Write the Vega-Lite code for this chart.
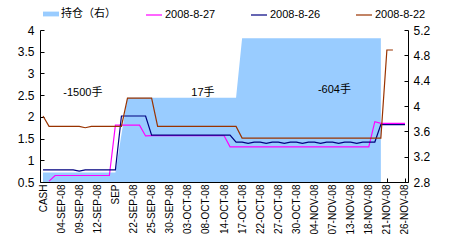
{
  "$schema": "https://vega.github.io/schema/vega-lite/v6.json",
  "width": 368,
  "height": 152,
  "autosize": {"type": "none"},
  "padding": {"left": 40, "top": 30, "right": 42, "bottom": 68},
  "config": {
    "view": {"stroke": null},
    "font": "Liberation Sans, 'Noto Sans CJK SC'",
    "axis": {"domainColor": "#000", "tickColor": "#000", "labelColor": "#000", "grid": false, "labelFont": "Liberation Sans", "domainWidth": 1, "tickWidth": 1, "labelOverlap": false, "title": null, "tickCount": 100}
  },
  "datasets": {
    "pos": [
      {"s": "持仓（右）", "i": 0, "v": 2.95}, {"s": "持仓（右）", "i": 1, "v": 2.95}, {"s": "持仓（右）", "i": 2, "v": 2.95}, {"s": "持仓（右）", "i": 3, "v": 2.95},
      {"s": "持仓（右）", "i": 4, "v": 2.95}, {"s": "持仓（右）", "i": 5, "v": 2.95}, {"s": "持仓（右）", "i": 6, "v": 2.95}, {"s": "持仓（右）", "i": 7, "v": 2.95},
      {"s": "持仓（右）", "i": 8, "v": 2.95}, {"s": "持仓（右）", "i": 9, "v": 2.95}, {"s": "持仓（右）", "i": 10, "v": 2.95}, {"s": "持仓（右）", "i": 11, "v": 2.95},
      {"s": "持仓（右）", "i": 12, "v": 2.95}, {"s": "持仓（右）", "i": 13, "v": 3.55}, {"s": "持仓（右）", "i": 14, "v": 4.13}, {"s": "持仓（右）", "i": 15, "v": 4.13},
      {"s": "持仓（右）", "i": 16, "v": 4.13}, {"s": "持仓（右）", "i": 17, "v": 4.13}, {"s": "持仓（右）", "i": 18, "v": 4.13}, {"s": "持仓（右）", "i": 19, "v": 4.13},
      {"s": "持仓（右）", "i": 20, "v": 4.13}, {"s": "持仓（右）", "i": 21, "v": 4.13}, {"s": "持仓（右）", "i": 22, "v": 4.13}, {"s": "持仓（右）", "i": 23, "v": 4.13},
      {"s": "持仓（右）", "i": 24, "v": 4.13}, {"s": "持仓（右）", "i": 25, "v": 4.13}, {"s": "持仓（右）", "i": 26, "v": 4.13}, {"s": "持仓（右）", "i": 27, "v": 4.13},
      {"s": "持仓（右）", "i": 28, "v": 4.13}, {"s": "持仓（右）", "i": 29, "v": 4.13}, {"s": "持仓（右）", "i": 30, "v": 4.13}, {"s": "持仓（右）", "i": 31, "v": 4.13},
      {"s": "持仓（右）", "i": 32, "v": 4.13}, {"s": "持仓（右）", "i": 33, "v": 5.07}, {"s": "持仓（右）", "i": 34, "v": 5.07}, {"s": "持仓（右）", "i": 35, "v": 5.07},
      {"s": "持仓（右）", "i": 36, "v": 5.07}, {"s": "持仓（右）", "i": 37, "v": 5.07}, {"s": "持仓（右）", "i": 38, "v": 5.07}, {"s": "持仓（右）", "i": 39, "v": 5.07},
      {"s": "持仓（右）", "i": 40, "v": 5.07}, {"s": "持仓（右）", "i": 41, "v": 5.07}, {"s": "持仓（右）", "i": 42, "v": 5.07}, {"s": "持仓（右）", "i": 43, "v": 5.07},
      {"s": "持仓（右）", "i": 44, "v": 5.07}, {"s": "持仓（右）", "i": 45, "v": 5.07}, {"s": "持仓（右）", "i": 46, "v": 5.07}, {"s": "持仓（右）", "i": 47, "v": 5.07},
      {"s": "持仓（右）", "i": 48, "v": 5.07}, {"s": "持仓（右）", "i": 49, "v": 5.07}, {"s": "持仓（右）", "i": 50, "v": 5.07}, {"s": "持仓（右）", "i": 51, "v": 5.07},
      {"s": "持仓（右）", "i": 52, "v": 5.07}, {"s": "持仓（右）", "i": 53, "v": 5.07}, {"s": "持仓（右）", "i": 54, "v": 5.07}, {"s": "持仓（右）", "i": 55, "v": 5.07},
      {"s": "持仓（右）", "i": 56, "v": 5.07}
    ],
    "m27": [
      {"s": "2008-8-27", "i": 1, "v": 0.52}, {"s": "2008-8-27", "i": 2, "v": 0.65}, {"s": "2008-8-27", "i": 3, "v": 0.65}, {"s": "2008-8-27", "i": 4, "v": 0.65},
      {"s": "2008-8-27", "i": 5, "v": 0.65}, {"s": "2008-8-27", "i": 6, "v": 0.65}, {"s": "2008-8-27", "i": 7, "v": 0.65}, {"s": "2008-8-27", "i": 8, "v": 0.65},
      {"s": "2008-8-27", "i": 9, "v": 0.65}, {"s": "2008-8-27", "i": 10, "v": 0.65}, {"s": "2008-8-27", "i": 11, "v": 0.65}, {"s": "2008-8-27", "i": 12, "v": 1.81},
      {"s": "2008-8-27", "i": 13, "v": 1.81}, {"s": "2008-8-27", "i": 14, "v": 1.81}, {"s": "2008-8-27", "i": 15, "v": 1.81}, {"s": "2008-8-27", "i": 16, "v": 1.81},
      {"s": "2008-8-27", "i": 17, "v": 1.56}, {"s": "2008-8-27", "i": 18, "v": 1.57}, {"s": "2008-8-27", "i": 19, "v": 1.57}, {"s": "2008-8-27", "i": 20, "v": 1.57},
      {"s": "2008-8-27", "i": 21, "v": 1.57}, {"s": "2008-8-27", "i": 22, "v": 1.57}, {"s": "2008-8-27", "i": 23, "v": 1.57}, {"s": "2008-8-27", "i": 24, "v": 1.57},
      {"s": "2008-8-27", "i": 25, "v": 1.57}, {"s": "2008-8-27", "i": 26, "v": 1.57}, {"s": "2008-8-27", "i": 27, "v": 1.57}, {"s": "2008-8-27", "i": 28, "v": 1.57},
      {"s": "2008-8-27", "i": 29, "v": 1.57}, {"s": "2008-8-27", "i": 30, "v": 1.57}, {"s": "2008-8-27", "i": 31, "v": 1.31}, {"s": "2008-8-27", "i": 32, "v": 1.31},
      {"s": "2008-8-27", "i": 33, "v": 1.31}, {"s": "2008-8-27", "i": 34, "v": 1.31}, {"s": "2008-8-27", "i": 35, "v": 1.31}, {"s": "2008-8-27", "i": 36, "v": 1.31},
      {"s": "2008-8-27", "i": 37, "v": 1.31}, {"s": "2008-8-27", "i": 38, "v": 1.31}, {"s": "2008-8-27", "i": 39, "v": 1.31}, {"s": "2008-8-27", "i": 40, "v": 1.31},
      {"s": "2008-8-27", "i": 41, "v": 1.31}, {"s": "2008-8-27", "i": 42, "v": 1.31}, {"s": "2008-8-27", "i": 43, "v": 1.31}, {"s": "2008-8-27", "i": 44, "v": 1.31},
      {"s": "2008-8-27", "i": 45, "v": 1.31}, {"s": "2008-8-27", "i": 46, "v": 1.31}, {"s": "2008-8-27", "i": 47, "v": 1.31}, {"s": "2008-8-27", "i": 48, "v": 1.31},
      {"s": "2008-8-27", "i": 49, "v": 1.31}, {"s": "2008-8-27", "i": 50, "v": 1.31}, {"s": "2008-8-27", "i": 51, "v": 1.31}, {"s": "2008-8-27", "i": 52, "v": 1.31},
      {"s": "2008-8-27", "i": 53, "v": 1.31}, {"s": "2008-8-27", "i": 54, "v": 1.31}, {"s": "2008-8-27", "i": 55, "v": 1.89}, {"s": "2008-8-27", "i": 56, "v": 1.85},
      {"s": "2008-8-27", "i": 57, "v": 1.85}, {"s": "2008-8-27", "i": 58, "v": 1.85}, {"s": "2008-8-27", "i": 59, "v": 1.85}, {"s": "2008-8-27", "i": 60, "v": 1.85}
    ],
    "m26": [
      {"s": "2008-8-26", "i": 0, "v": 0.78}, {"s": "2008-8-26", "i": 1, "v": 0.78}, {"s": "2008-8-26", "i": 2, "v": 0.78}, {"s": "2008-8-26", "i": 3, "v": 0.78},
      {"s": "2008-8-26", "i": 4, "v": 0.78}, {"s": "2008-8-26", "i": 5, "v": 0.78}, {"s": "2008-8-26", "i": 6, "v": 0.75}, {"s": "2008-8-26", "i": 7, "v": 0.78},
      {"s": "2008-8-26", "i": 8, "v": 0.78}, {"s": "2008-8-26", "i": 9, "v": 0.78}, {"s": "2008-8-26", "i": 10, "v": 0.78}, {"s": "2008-8-26", "i": 11, "v": 0.78},
      {"s": "2008-8-26", "i": 12, "v": 0.78}, {"s": "2008-8-26", "i": 13, "v": 2.02}, {"s": "2008-8-26", "i": 14, "v": 2.02}, {"s": "2008-8-26", "i": 15, "v": 2.02},
      {"s": "2008-8-26", "i": 16, "v": 2.02}, {"s": "2008-8-26", "i": 17, "v": 2.02}, {"s": "2008-8-26", "i": 18, "v": 1.58}, {"s": "2008-8-26", "i": 19, "v": 1.58},
      {"s": "2008-8-26", "i": 20, "v": 1.58}, {"s": "2008-8-26", "i": 21, "v": 1.58}, {"s": "2008-8-26", "i": 22, "v": 1.58}, {"s": "2008-8-26", "i": 23, "v": 1.58},
      {"s": "2008-8-26", "i": 24, "v": 1.58}, {"s": "2008-8-26", "i": 25, "v": 1.58}, {"s": "2008-8-26", "i": 26, "v": 1.58}, {"s": "2008-8-26", "i": 27, "v": 1.58},
      {"s": "2008-8-26", "i": 28, "v": 1.58}, {"s": "2008-8-26", "i": 29, "v": 1.58}, {"s": "2008-8-26", "i": 30, "v": 1.58}, {"s": "2008-8-26", "i": 31, "v": 1.58},
      {"s": "2008-8-26", "i": 32, "v": 1.42}, {"s": "2008-8-26", "i": 33, "v": 1.42}, {"s": "2008-8-26", "i": 34, "v": 1.39}, {"s": "2008-8-26", "i": 35, "v": 1.42},
      {"s": "2008-8-26", "i": 36, "v": 1.42}, {"s": "2008-8-26", "i": 37, "v": 1.39}, {"s": "2008-8-26", "i": 38, "v": 1.42}, {"s": "2008-8-26", "i": 39, "v": 1.42},
      {"s": "2008-8-26", "i": 40, "v": 1.39}, {"s": "2008-8-26", "i": 41, "v": 1.42}, {"s": "2008-8-26", "i": 42, "v": 1.42}, {"s": "2008-8-26", "i": 43, "v": 1.39},
      {"s": "2008-8-26", "i": 44, "v": 1.42}, {"s": "2008-8-26", "i": 45, "v": 1.42}, {"s": "2008-8-26", "i": 46, "v": 1.39}, {"s": "2008-8-26", "i": 47, "v": 1.42},
      {"s": "2008-8-26", "i": 48, "v": 1.42}, {"s": "2008-8-26", "i": 49, "v": 1.39}, {"s": "2008-8-26", "i": 50, "v": 1.42}, {"s": "2008-8-26", "i": 51, "v": 1.42},
      {"s": "2008-8-26", "i": 52, "v": 1.39}, {"s": "2008-8-26", "i": 53, "v": 1.42}, {"s": "2008-8-26", "i": 54, "v": 1.42}, {"s": "2008-8-26", "i": 55, "v": 1.42},
      {"s": "2008-8-26", "i": 56, "v": 1.82}, {"s": "2008-8-26", "i": 57, "v": 1.82}, {"s": "2008-8-26", "i": 58, "v": 1.82}, {"s": "2008-8-26", "i": 59, "v": 1.82},
      {"s": "2008-8-26", "i": 60, "v": 1.82}
    ],
    "m22": [
      {"s": "2008-8-22", "i": 0, "v": 2.02}, {"s": "2008-8-22", "i": 1, "v": 1.78}, {"s": "2008-8-22", "i": 2, "v": 1.78}, {"s": "2008-8-22", "i": 3, "v": 1.78},
      {"s": "2008-8-22", "i": 4, "v": 1.78}, {"s": "2008-8-22", "i": 5, "v": 1.78}, {"s": "2008-8-22", "i": 6, "v": 1.78}, {"s": "2008-8-22", "i": 7, "v": 1.75},
      {"s": "2008-8-22", "i": 8, "v": 1.78}, {"s": "2008-8-22", "i": 9, "v": 1.78}, {"s": "2008-8-22", "i": 10, "v": 1.78}, {"s": "2008-8-22", "i": 11, "v": 1.78},
      {"s": "2008-8-22", "i": 12, "v": 1.78}, {"s": "2008-8-22", "i": 13, "v": 1.78}, {"s": "2008-8-22", "i": 14, "v": 2.43}, {"s": "2008-8-22", "i": 15, "v": 2.43},
      {"s": "2008-8-22", "i": 16, "v": 2.43}, {"s": "2008-8-22", "i": 17, "v": 2.43}, {"s": "2008-8-22", "i": 18, "v": 2.43}, {"s": "2008-8-22", "i": 19, "v": 1.78},
      {"s": "2008-8-22", "i": 20, "v": 1.78}, {"s": "2008-8-22", "i": 21, "v": 1.78}, {"s": "2008-8-22", "i": 22, "v": 1.78}, {"s": "2008-8-22", "i": 23, "v": 1.78},
      {"s": "2008-8-22", "i": 24, "v": 1.78}, {"s": "2008-8-22", "i": 25, "v": 1.78}, {"s": "2008-8-22", "i": 26, "v": 1.78}, {"s": "2008-8-22", "i": 27, "v": 1.78},
      {"s": "2008-8-22", "i": 28, "v": 1.78}, {"s": "2008-8-22", "i": 29, "v": 1.78}, {"s": "2008-8-22", "i": 30, "v": 1.78}, {"s": "2008-8-22", "i": 31, "v": 1.78},
      {"s": "2008-8-22", "i": 32, "v": 1.78}, {"s": "2008-8-22", "i": 33, "v": 1.51}, {"s": "2008-8-22", "i": 34, "v": 1.51}, {"s": "2008-8-22", "i": 35, "v": 1.51},
      {"s": "2008-8-22", "i": 36, "v": 1.51}, {"s": "2008-8-22", "i": 37, "v": 1.51}, {"s": "2008-8-22", "i": 38, "v": 1.51}, {"s": "2008-8-22", "i": 39, "v": 1.51},
      {"s": "2008-8-22", "i": 40, "v": 1.51}, {"s": "2008-8-22", "i": 41, "v": 1.51}, {"s": "2008-8-22", "i": 42, "v": 1.51}, {"s": "2008-8-22", "i": 43, "v": 1.51},
      {"s": "2008-8-22", "i": 44, "v": 1.51}, {"s": "2008-8-22", "i": 45, "v": 1.51}, {"s": "2008-8-22", "i": 46, "v": 1.51}, {"s": "2008-8-22", "i": 47, "v": 1.51},
      {"s": "2008-8-22", "i": 48, "v": 1.51}, {"s": "2008-8-22", "i": 49, "v": 1.51}, {"s": "2008-8-22", "i": 50, "v": 1.51}, {"s": "2008-8-22", "i": 51, "v": 1.51},
      {"s": "2008-8-22", "i": 52, "v": 1.51}, {"s": "2008-8-22", "i": 53, "v": 1.51}, {"s": "2008-8-22", "i": 54, "v": 1.51}, {"s": "2008-8-22", "i": 55, "v": 1.51},
      {"s": "2008-8-22", "i": 56, "v": 1.51}, {"s": "2008-8-22", "i": 57, "v": 3.54}, {"s": "2008-8-22", "i": 58, "v": 3.54}
    ],
    "notes": [
      {"t": "-1500手", "i": 6.6, "v": 2.55},
      {"t": "17手", "i": 26.5, "v": 2.56},
      {"t": "-604手", "i": 48.3, "v": 2.62}
    ]
  },
  "layer": [
    {
      "data": {"name": "pos"},
      "mark": {"type": "area", "opacity": 1},
      "encoding": {
        "x": {
          "field": "i", "type": "quantitative",
          "scale": {"domain": [-0.5, 60.5], "nice": false, "zero": false},
          "axis": {
            "values": [0, 3, 6, 9, 12, 15, 18, 21, 24, 27, 30, 33, 36, 39, 42, 45, 48, 51, 54, 57, 60],
            "labelExpr": "['CASH','04-SEP-08','09-SEP-08','12-SEP-08','SEP','22-SEP-08','25-SEP-08','30-SEP-08','03-OCT-08','08-OCT-08','14-OCT-08','17-OCT-08','22-OCT-08','27-OCT-08','30-OCT-08','04-NOV-08','07-NOV-08','13-NOV-08','18-NOV-08','21-NOV-08','26-NOV-08'][round(datum.value / 3)]",
            "labelAngle": -90,
            "labelFontSize": 10,
            "tickSize": -4,
            "tickCount": 100,
            "labelPadding": 6,
            "labelOverlap": false,
            "labelBound": false,
            "labelFlush": false
          }
        },
        "y": {
          "field": "v", "type": "quantitative",
          "scale": {"domain": [2.8, 5.2], "zero": false, "nice": false},
          "axis": {"orient": "right", "values": [2.8, 3.2, 3.6, 4, 4.4, 4.8, 5.2], "format": ".1~f", "labelFontSize": 12, "tickSize": -4, "tickCount": 100, "labelPadding": 9, "labelFlush": false, "labelOverlap": false}
        },
        "y2": {"datum": 2.8},
        "fill": {
          "field": "s", "type": "nominal",
          "scale": {"domain": ["持仓（右）"], "range": ["#99CCFF"]},
          "legend": {
            "title": null,
            "orient": "none",
            "legendX": 3,
            "legendY": -24,
            "direction": "horizontal",
            "labelFontSize": 11,
            "labelColor": "#000",
            "labelFont": "Liberation Sans, 'Noto Sans CJK SC'",
            "symbolType": "M-1,-0.3H1V0.3H-1Z",
            "symbolSize": 256,
            "symbolStrokeWidth": 0,
            "labelOffset": 2
          }
        }
      }
    },
    {
      "layer": [
        {
          "data": {"name": "m27"},
          "mark": {"type": "line", "strokeWidth": 1.2},
          "encoding": {
            "x": {"field": "i", "type": "quantitative"},
            "y": {"field": "v", "type": "quantitative", "scale": {"domain": [0.5, 4], "zero": false, "nice": false},
              "axis": {"orient": "left", "values": [0.5, 1, 1.5, 2, 2.5, 3, 3.5, 4], "format": ".1~f", "labelFontSize": 12, "tickSize": -4, "tickCount": 100, "labelPadding": 10, "labelFlush": false, "labelOverlap": false}},
            "stroke": {
              "field": "s", "type": "nominal",
              "scale": {"domain": ["2008-8-27", "2008-8-26", "2008-8-22"], "range": ["#FF00FF", "#000080", "#993300"]},
              "legend": {
                "title": null,
                "orient": "none",
                "legendX": 105,
                "legendY": -24,
                "direction": "horizontal",
                "columns": 3,
                "gridAlign": "all",
                "columnPadding": 32,
                "labelFontSize": 11,
                "labelColor": "#000",
                "labelFont": "Liberation Sans",
                "symbolType": "stroke",
                "symbolSize": 256,
                "symbolStrokeWidth": 1.2,
                "labelOffset": 2
              }
            }
          }
        },
        {
          "data": {"name": "m26"},
          "mark": {"type": "line", "strokeWidth": 1.2},
          "encoding": {
            "x": {"field": "i", "type": "quantitative"},
            "y": {"field": "v", "type": "quantitative"},
            "stroke": {"field": "s", "type": "nominal"}
          }
        },
        {
          "data": {"name": "m22"},
          "mark": {"type": "line", "strokeWidth": 1.2},
          "encoding": {
            "x": {"field": "i", "type": "quantitative"},
            "y": {"field": "v", "type": "quantitative"},
            "stroke": {"field": "s", "type": "nominal"}
          }
        },
        {
          "data": {"name": "notes"},
          "mark": {"type": "text", "fontSize": 11, "color": "#000", "font": "Liberation Sans, 'Noto Sans CJK SC'"},
          "encoding": {
            "x": {"field": "i", "type": "quantitative"},
            "y": {"field": "v", "type": "quantitative"},
            "text": {"field": "t"}
          }
        }
      ]
    }
  ],
  "resolve": {"scale": {"y": "independent"}}
}
